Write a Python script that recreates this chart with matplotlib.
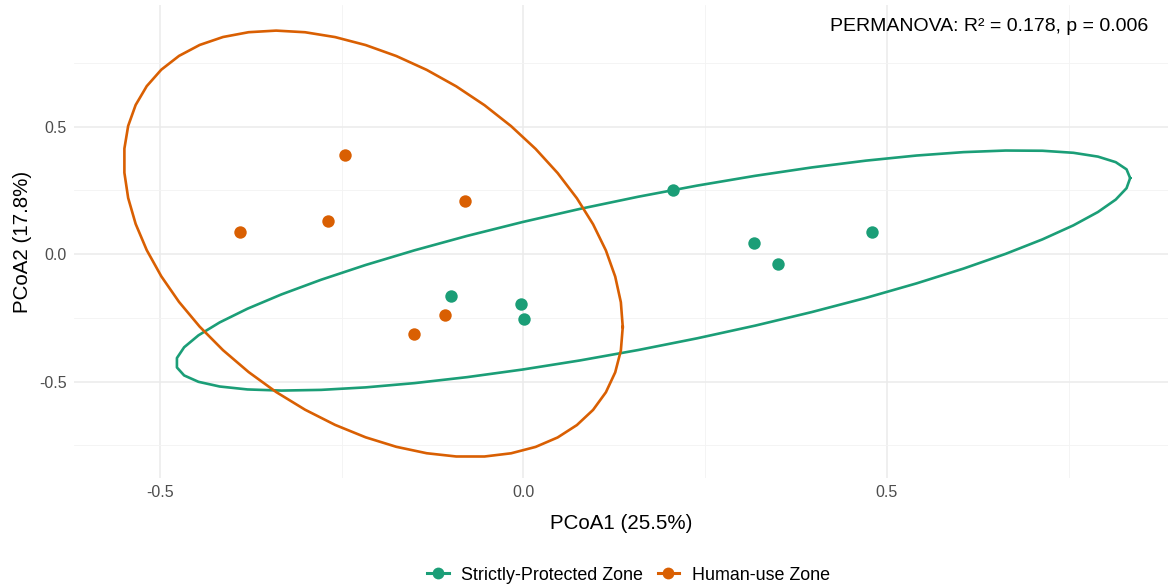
import numpy as np
import matplotlib
matplotlib.use("Agg")
import matplotlib.pyplot as plt
from matplotlib.lines import Line2D

plt.rcParams['font.family'] = ['Liberation Sans', 'DejaVu Sans']

groups = ["Strictly-Protected Zone", "Human-use Zone"]
colors = ["#1B9E77", "#D95F02"]
sp_x = [0.206, 0.317, 0.351, 0.480, -0.099, -0.003, 0.001]
sp_y = [0.251, 0.043, -0.040, 0.085, -0.165, -0.195, -0.256]
hu_x = [-0.245, -0.080, -0.268, -0.390, -0.107, -0.150]
hu_y = [0.389, 0.209, 0.129, 0.087, -0.239, -0.3125]
xlabel = "PCoA1 (25.5%)"
ylabel = "PCoA2 (17.8%)"
annot = "PERMANOVA: R² = 0.178, p = 0.006"


def cov_trob(x, nu=5, maxit=25, tol=0.01):
    n, p = x.shape
    wt = np.ones(n)
    loc = x.mean(axis=0)
    w = np.sqrt(wt)
    for _ in range(maxit):
        w0 = w
        X = x - loc
        _, d, vt = np.linalg.svd(np.sqrt(w / w.sum())[:, None] * X, full_matrices=False)
        wX = X @ vt.T @ np.diag(1 / d)
        Q = (wX ** 2).sum(axis=1)
        w = wt * (nu + p) / (nu + Q)
        loc = (w[:, None] * x).sum(axis=0) / w.sum()
        if np.all(np.abs(w - w0) < tol):
            break
    cov = (np.sqrt(w)[:, None] * X).T @ (np.sqrt(w)[:, None] * X) / wt.sum()
    return cov, loc


def stat_ellipse(xs, ys, level=0.95, segments=51):
    data = np.column_stack([xs, ys])
    cov, center = cov_trob(data)
    dfn, dfd = 2, len(xs) - 1
    fq = dfd / 2 * ((1 - level) ** (-2 / dfd) - 1)  # F(2, dfd) quantile
    radius = np.sqrt(dfn * fq)
    chol = np.linalg.cholesky(cov).T  # upper triangular like R chol
    ang = np.arange(segments + 1) * 2 * np.pi / segments
    circ = np.column_stack([np.cos(ang), np.sin(ang)])
    return center + radius * (circ @ chol)


fig = plt.figure(figsize=(11.74, 5.85), dpi=100)
ax = fig.add_axes([0.063, 0.183, 0.932, 0.808])

for (gx, gy), c in zip([(sp_x, sp_y), (hu_x, hu_y)], colors):
    e = stat_ellipse(np.array(gx), np.array(gy))
    ax.plot(e[:, 0], e[:, 1], color=c, lw=1.9, zorder=2)
    ax.scatter(gx, gy, s=80, color=c, zorder=3, linewidths=0)

ax.set_xlim(-0.618, 0.887)
ax.set_ylim(-0.878, 0.976)
ax.set_xticks([-0.5, 0.0, 0.5])
ax.set_xticklabels(["-0.5", "0.0", "0.5"])
ax.set_yticks([-0.5, 0.0, 0.5])
ax.set_yticklabels(["-0.5", "0.0", "0.5"])
ax.set_xticks([-0.25, 0.25, 0.75], minor=True)
ax.set_yticks([-0.75, -0.25, 0.25, 0.75], minor=True)
ax.grid(True, which="major", color="#EBEBEB", lw=1.1)
ax.grid(True, which="minor", color="#F3F3F3", lw=0.6)
ax.set_axisbelow(True)
for s in ax.spines.values():
    s.set_visible(False)
ax.tick_params(which="both", length=0, labelsize=11.5, labelcolor="#4D4D4D", pad=5)
ax.set_xlabel(xlabel, fontsize=14.8, color="black", labelpad=10)
ax.set_ylabel(ylabel, fontsize=14.8, color="black", labelpad=5)

ax.text(0.9817, 0.956, annot, transform=ax.transAxes, ha="right", va="center",
        fontsize=14, color="black")

handles = [Line2D([0], [0], color=c, lw=2.2, marker="o", markersize=8.5,
                  markeredgewidth=0) for c in colors]
fig.legend(handles, groups, loc="center", bbox_to_anchor=(628.5 / 1174, 1 - 575 / 585),
           ncol=2, frameon=False, fontsize=12.9, handlelength=1.2, handletextpad=0.7,
           columnspacing=0.8)

fig.savefig("out.png", dpi=100)
